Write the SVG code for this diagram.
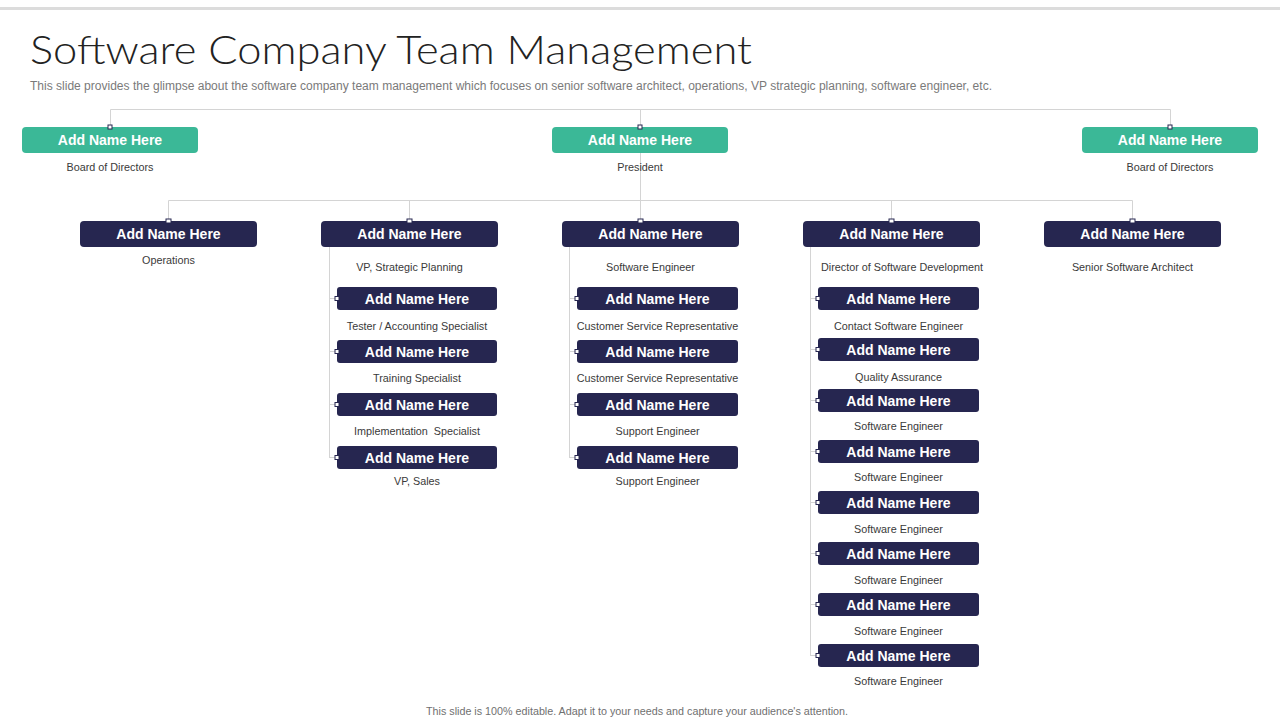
<svg xmlns="http://www.w3.org/2000/svg" width="1280" height="720" viewBox="0 0 1280 720">
<style>
.title{font-family:"Lato","Liberation Sans",sans-serif;font-weight:300;font-size:40px;fill:#222}
.sub{font-family:"Liberation Sans",Arial,sans-serif;font-size:12px;fill:#7a7a7a}
.foot{font-family:"Liberation Sans",Arial,sans-serif;font-size:11px;fill:#707070}
.nm{font-family:"Liberation Sans",Arial,sans-serif;font-weight:bold;font-size:14px;fill:#fff;text-anchor:middle}
.lb{font-family:"Liberation Sans",Arial,sans-serif;font-size:10.8px;fill:#3a3a3a;text-anchor:middle}
.g{fill:#3bb897}
.n{fill:#262650}
.ln{stroke:#d4d4d4;stroke-width:1;fill:none}
.dot{fill:#fff;stroke:#262650;stroke-width:1}
</style>
<rect x="0" y="0" width="1280" height="720" fill="#fff"/>
<rect x="0" y="7" width="1280" height="3" fill="#dcdcdc"/>
<text class="title" x="30" y="64" textLength="722" lengthAdjust="spacingAndGlyphs">Software Company Team Management</text>
<text class="sub" x="30" y="90" textLength="962" lengthAdjust="spacingAndGlyphs">This slide provides the glimpse about the software company team management which focuses on senior software architect, operations, VP strategic planning, software engineer, etc.</text>

<g id="connectors">
<path class="ln" d="M110.5 109.5H1170.5M110.5 109.5V127M640.5 109.5V127M1170.5 109.5V127"/>
<path class="ln" d="M640.5 153V221M168.5 200.5H1132.5M168.5 200.5V221M409.5 200.5V221M891.5 200.5V221M1132.5 200.5V221"/>
<path class="ln" d="M329.5 247V458M329.5 298.5H337M329.5 351.5H337M329.5 404.5H337M329.5 457.5H337"/>
<path class="ln" d="M569.5 247V458M569.5 298.5H577M569.5 351.5H577M569.5 404.5H577M569.5 457.5H577"/>
<path class="ln" d="M810.5 247V656M810.5 298.5H818M810.5 349.5H818M810.5 400.5H818M810.5 451.5H818M810.5 502.5H818M810.5 553.5H818M810.5 604.5H818M810.5 655.5H818"/>
</g>

<g id="n-bod-left"><rect class="g" x="22" y="127" width="176" height="26" rx="4"/><rect class="dot" x="108" y="125" width="4" height="4"/><text class="nm" x="110" y="145">Add Name Here</text><text class="lb" x="110" y="171">Board of Directors</text></g>
<g id="n-president"><rect class="g" x="552" y="127" width="176" height="26" rx="4"/><rect class="dot" x="638" y="125" width="4" height="4"/><text class="nm" x="640" y="145">Add Name Here</text><text class="lb" x="640" y="171">President</text></g>
<g id="n-bod-right"><rect class="g" x="1082" y="127" width="176" height="26" rx="4"/><rect class="dot" x="1168" y="125" width="4" height="4"/><text class="nm" x="1170" y="145">Add Name Here</text><text class="lb" x="1170" y="171">Board of Directors</text></g>

<g id="n-operations"><rect class="n" x="80" y="221" width="177" height="26" rx="4"/><rect class="dot" x="166" y="219" width="5" height="4"/><text class="nm" x="168.5" y="239">Add Name Here</text><text class="lb" x="168.5" y="264">Operations</text></g>
<g id="n-vp-strategic"><rect class="n" x="321" y="221" width="177" height="26" rx="4"/><rect class="dot" x="407" y="219" width="5" height="4"/><text class="nm" x="409.5" y="239">Add Name Here</text><text class="lb" x="409.5" y="271">VP, Strategic Planning</text></g>
<g id="n-software-engineer"><rect class="n" x="562" y="221" width="177" height="26" rx="4"/><rect class="dot" x="638" y="219" width="5" height="4"/><text class="nm" x="650.5" y="239">Add Name Here</text><text class="lb" x="650.5" y="271">Software Engineer</text></g>
<g id="n-director"><rect class="n" x="803" y="221" width="177" height="26" rx="4"/><rect class="dot" x="889" y="219" width="5" height="4"/><text class="nm" x="891.5" y="239">Add Name Here</text><text class="lb" x="902" y="271">Director of Software Development</text></g>
<g id="n-architect"><rect class="n" x="1044" y="221" width="177" height="26" rx="4"/><rect class="dot" x="1130" y="219" width="5" height="4"/><text class="nm" x="1132.5" y="239">Add Name Here</text><text class="lb" x="1132.5" y="271">Senior Software Architect</text></g>

<g id="n-tester"><rect class="n" x="337" y="287" width="160" height="23" rx="3"/><rect class="dot" x="335" y="296.5" width="4" height="4"/><text class="nm" x="417" y="303.5">Add Name Here</text><text class="lb" x="417" y="330">Tester / Accounting Specialist</text></g>
<g id="n-training"><rect class="n" x="337" y="340" width="160" height="23" rx="3"/><rect class="dot" x="335" y="349.5" width="4" height="4"/><text class="nm" x="417" y="356.5">Add Name Here</text><text class="lb" x="417" y="382">Training Specialist</text></g>
<g id="n-implementation"><rect class="n" x="337" y="393" width="160" height="23" rx="3"/><rect class="dot" x="335" y="402.5" width="4" height="4"/><text class="nm" x="417" y="409.5">Add Name Here</text><text class="lb" x="417" y="435" xml:space="preserve">Implementation  Specialist</text></g>
<g id="n-vp-sales"><rect class="n" x="337" y="446" width="160" height="23" rx="3"/><rect class="dot" x="335" y="455.5" width="4" height="4"/><text class="nm" x="417" y="462.5">Add Name Here</text><text class="lb" x="417" y="485">VP, Sales</text></g>

<g id="n-csr1"><rect class="n" x="577" y="287" width="161" height="23" rx="3"/><rect class="dot" x="575" y="296.5" width="4" height="4"/><text class="nm" x="657.5" y="303.5">Add Name Here</text><text class="lb" x="657.5" y="330">Customer Service Representative</text></g>
<g id="n-csr2"><rect class="n" x="577" y="340" width="161" height="23" rx="3"/><rect class="dot" x="575" y="349.5" width="4" height="4"/><text class="nm" x="657.5" y="356.5">Add Name Here</text><text class="lb" x="657.5" y="382">Customer Service Representative</text></g>
<g id="n-support1"><rect class="n" x="577" y="393" width="161" height="23" rx="3"/><rect class="dot" x="575" y="402.5" width="4" height="4"/><text class="nm" x="657.5" y="409.5">Add Name Here</text><text class="lb" x="657.5" y="435">Support Engineer</text></g>
<g id="n-support2"><rect class="n" x="577" y="446" width="161" height="23" rx="3"/><rect class="dot" x="575" y="455.5" width="4" height="4"/><text class="nm" x="657.5" y="462.5">Add Name Here</text><text class="lb" x="657.5" y="485">Support Engineer</text></g>

<g id="n-contact"><rect class="n" x="818" y="287" width="161" height="23" rx="3"/><rect class="dot" x="816" y="296.5" width="4" height="4"/><text class="nm" x="898.5" y="303.5">Add Name Here</text><text class="lb" x="898.5" y="330">Contact Software Engineer</text></g>
<g id="n-qa"><rect class="n" x="818" y="338" width="161" height="23" rx="3"/><rect class="dot" x="816" y="347.5" width="4" height="4"/><text class="nm" x="898.5" y="354.5">Add Name Here</text><text class="lb" x="898.5" y="381">Quality Assurance</text></g>
<g id="n-se1"><rect class="n" x="818" y="389" width="161" height="23" rx="3"/><rect class="dot" x="816" y="398.5" width="4" height="4"/><text class="nm" x="898.5" y="405.5">Add Name Here</text><text class="lb" x="898.5" y="430">Software Engineer</text></g>
<g id="n-se2"><rect class="n" x="818" y="440" width="161" height="23" rx="3"/><rect class="dot" x="816" y="449.5" width="4" height="4"/><text class="nm" x="898.5" y="456.5">Add Name Here</text><text class="lb" x="898.5" y="481">Software Engineer</text></g>
<g id="n-se3"><rect class="n" x="818" y="491" width="161" height="23" rx="3"/><rect class="dot" x="816" y="500.5" width="4" height="4"/><text class="nm" x="898.5" y="507.5">Add Name Here</text><text class="lb" x="898.5" y="533">Software Engineer</text></g>
<g id="n-se4"><rect class="n" x="818" y="542" width="161" height="23" rx="3"/><rect class="dot" x="816" y="551.5" width="4" height="4"/><text class="nm" x="898.5" y="558.5">Add Name Here</text><text class="lb" x="898.5" y="584">Software Engineer</text></g>
<g id="n-se5"><rect class="n" x="818" y="593" width="161" height="23" rx="3"/><rect class="dot" x="816" y="602.5" width="4" height="4"/><text class="nm" x="898.5" y="609.5">Add Name Here</text><text class="lb" x="898.5" y="635">Software Engineer</text></g>
<g id="n-se6"><rect class="n" x="818" y="644" width="161" height="23" rx="3"/><rect class="dot" x="816" y="653.5" width="4" height="4"/><text class="nm" x="898.5" y="660.5">Add Name Here</text><text class="lb" x="898.5" y="685">Software Engineer</text></g>

<text class="foot" x="426" y="715" textLength="422" lengthAdjust="spacingAndGlyphs">This slide is 100% editable. Adapt it to your needs and capture your audience's attention.</text>
</svg>
